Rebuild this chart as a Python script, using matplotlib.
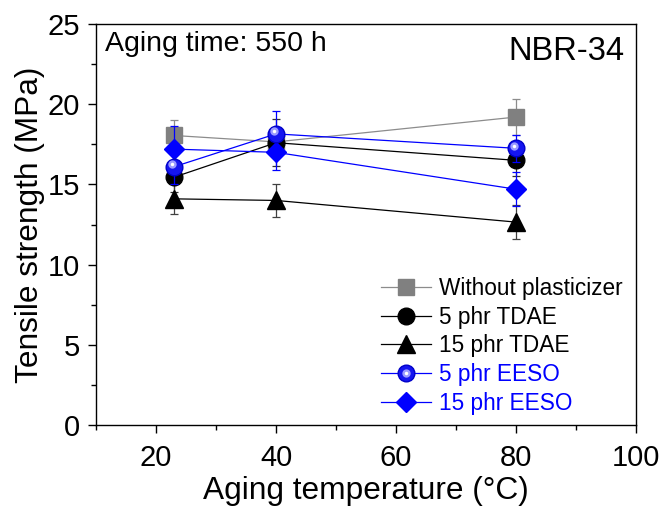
import matplotlib.pyplot as plt
import matplotlib.transforms as mtransforms
from matplotlib.legend_handler import HandlerTuple
from matplotlib.ticker import MultipleLocator

plt.rcParams["font.family"] = ["Liberation Sans", "DejaVu Sans"]

# Aging temperature (°C)
temperature = [23, 40, 80]

# Tensile strength (MPa) and standard deviation after 550 h
without_plast = [18.05, 17.65, 19.2]
without_plast_err = [0.95, 0.9, 1.15]
tdae_5 = [15.45, 17.6, 16.5]
tdae_5_err = [0.9, 1.45, 1.0]
tdae_15 = [14.1, 14.0, 12.65]
tdae_15_err = [0.95, 1.05, 1.05]
eeso_5 = [16.1, 18.15, 17.25]
eeso_5_err = [1.1, 1.45, 0.85]
eeso_15 = [17.2, 17.0, 14.7]
eeso_15_err = [1.45, 1.1, 1.05]

labels = ["Without plasticizer", "5 phr TDAE", "15 phr TDAE", "5 phr EESO", "15 phr EESO"]

fig = plt.figure(figsize=(6.65, 5.11), dpi=100)
ax = fig.add_axes([0.1444, 0.1683, 0.812, 0.7847])

err_kw = dict(capsize=3.2, elinewidth=0.9, capthick=0.9)

h_wp = ax.errorbar(temperature, without_plast, yerr=without_plast_err, color="#8c8c8c",
                   ecolor="#8c8c8c", marker="s", ms=11, mfc="#808080", mec="#808080",
                   lw=0.9, zorder=2, **err_kw)
h_t5 = ax.errorbar(temperature, tdae_5, yerr=tdae_5_err, color="black", ecolor="#303030",
                   marker="o", ms=12, lw=0.9, zorder=3, **err_kw)
h_t15 = ax.errorbar(temperature, tdae_15, yerr=tdae_15_err, color="black", ecolor="#404040",
                    marker="^", ms=13, lw=0.9, zorder=3, **err_kw)
h_e5 = ax.errorbar(temperature, eeso_5, yerr=eeso_5_err, color="#0000ff", ecolor="#0000ff",
                   marker="o", ms=12, mfc="#1515f0", mec="#0000c8", lw=0.9, zorder=5, **err_kw)
h_e15 = ax.errorbar(temperature, eeso_15, yerr=eeso_15_err, color="#0000ff", ecolor="#0000ff",
                    marker="D", ms=10.5, lw=0.9, zorder=4, **err_kw)

# glossy highlight on the EESO spheres
shift = mtransforms.ScaledTranslation(-1.5 / 72, 2.0 / 72, fig.dpi_scale_trans)
glow, = ax.plot(temperature, eeso_5, ls="none", marker="o", ms=6, mfc="#9a9aff",
                mec="none", zorder=6, transform=ax.transData + shift)
spot, = ax.plot(temperature, eeso_5, ls="none", marker="o", ms=2.5, mfc="white",
                mec="none", zorder=7, transform=ax.transData + shift)

ax.set_xlim(10, 100)
ax.set_ylim(0, 25)
ax.xaxis.set_major_locator(MultipleLocator(20))
ax.xaxis.set_minor_locator(MultipleLocator(10))
ax.yaxis.set_major_locator(MultipleLocator(5))
ax.yaxis.set_minor_locator(MultipleLocator(2.5))
ax.tick_params(which="major", direction="out", length=6, width=1, labelsize=21)
ax.tick_params(axis="x", which="major", pad=7.5)
ax.tick_params(axis="y", which="major", pad=5.5)
ax.tick_params(which="minor", direction="out", length=3.5, width=1)
for sp in ax.spines.values():
    sp.set_linewidth(1)

ax.set_xlabel("Aging temperature (°C)", fontsize=22.8, labelpad=3)
ax.set_ylabel("Tensile strength (MPa)", fontsize=22.8, labelpad=2)

ax.text(0.016, 0.983, "Aging time: 550 h", transform=ax.transAxes, fontsize=20.5,
        ha="left", va="top")
ax.text(0.978, 0.97, "NBR-34", transform=ax.transAxes, fontsize=23.5,
        ha="right", va="top")

handles = [h_wp[0], h_t5[0], h_t15[0], (h_e5[0], glow, spot), h_e15[0]]
leg = ax.legend(handles, labels, loc="upper left", bbox_to_anchor=(0.5115, 0.392),
                frameon=False, fontsize=16.3, handlelength=2.2, handletextpad=0.35,
                labelspacing=0.25, borderaxespad=0,
                handler_map={tuple: HandlerTuple(ndivide=1, pad=0)})
for txt in leg.get_texts()[3:]:
    txt.set_color("#0000ff")

fig.savefig("out.png", dpi=100)
